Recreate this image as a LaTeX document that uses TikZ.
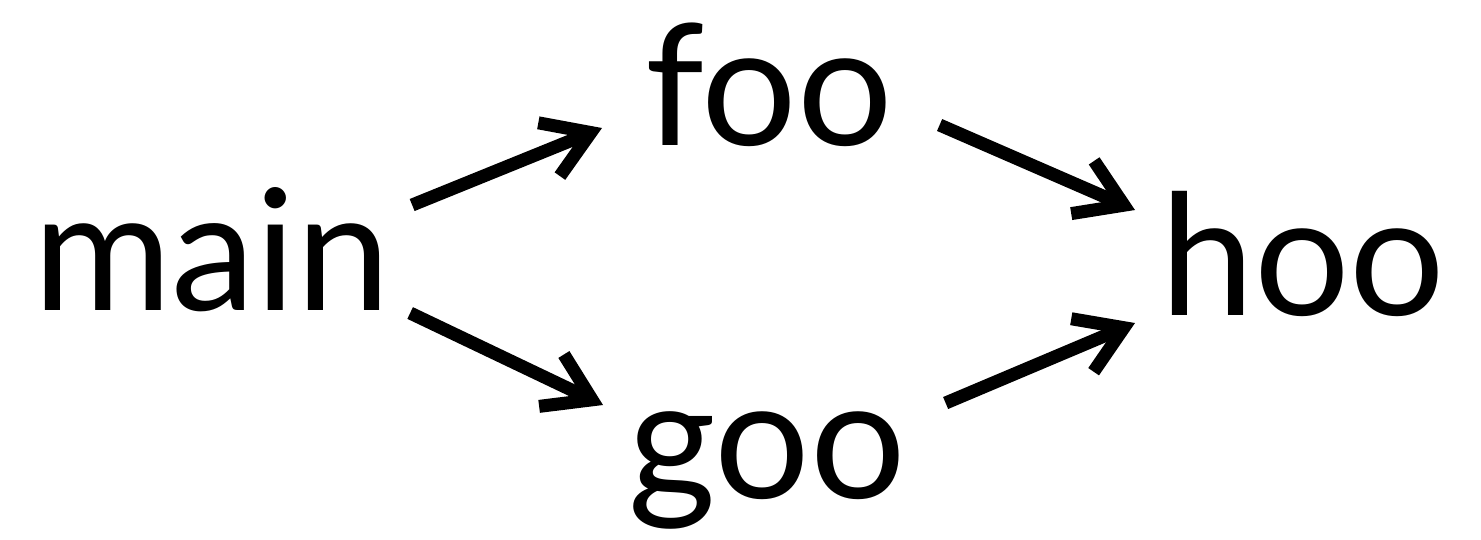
\documentclass[tikz,border=0pt]{standalone}
\usepackage{fontspec}
\setmainfont{Lato}
\usetikzlibrary{arrows.meta,calc,positioning}

\tikzset{
  word/.style={inner sep=0pt, outer sep=0pt, anchor=base west, font=\fontsize{96}{100}\selectfont},
  call/.style={line width=0.26cm, -{Straight Barb[length=0.9cm,width=1.15cm]}},
}

\begin{document}
\begin{tikzpicture}[x=0.02cm,y=0.02cm]
  \useasboundingbox (0,0) rectangle (1481,-539);
  \node[word] (main) at (33,-310) {main};
  \node[word] (foo) at (645,-145) {foo};
  \node[word] (goo) at (628,-498) {goo};
  \node[word] (hoo) at (1160,-315) {hoo};
  % calls
  \draw[call] ([shift={(22,105)}]main.base east) -- ([shift={(-43,17)}]foo.base west);
  \draw[call] ([shift={(20,-3)}]main.base east) -- ([shift={(-25,93)}]goo.base west);
  \draw[call] ([shift={(47,20)}]foo.base east) -- ([shift={(-25,105)}]hoo.base west);
  \draw[call] ([shift={(40,95)}]goo.base east) -- ([shift={(-25,-8)}]hoo.base west);
\end{tikzpicture}
\end{document}
